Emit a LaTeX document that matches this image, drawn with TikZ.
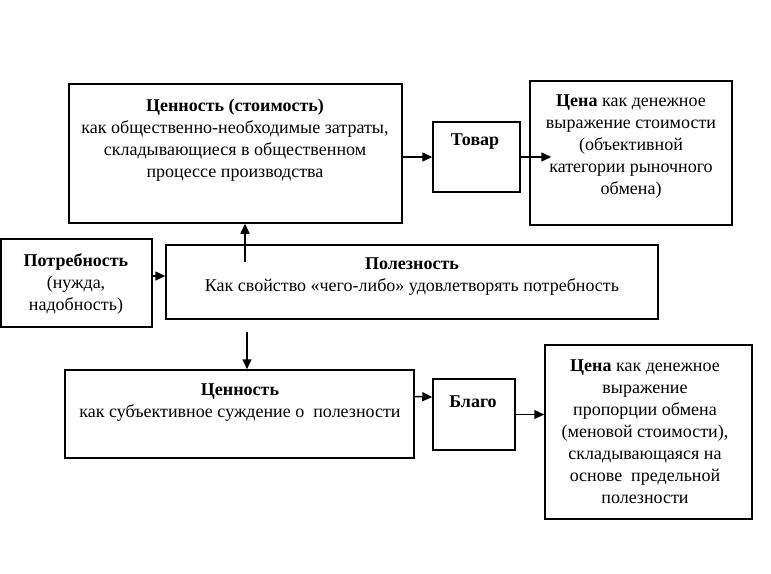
\documentclass[tikz,border=0pt]{standalone}
\usepackage{fontspec}
\setmainfont{Liberation Serif}
\usetikzlibrary{arrows.meta,calc}
\tikzset{
  box/.style={draw=black, line width=1.5pt, inner sep=0pt, fill=white},
  txt/.style={align=center, inner sep=0pt, font=\fontsize{18}{22}\selectfont},
  arr/.style={line width=1.5pt, -{Triangle[length=10pt,width=9pt]}},
}
\begin{document}
\begin{tikzpicture}[x=1pt,y=-1pt]
\useasboundingbox (0,0) rectangle (771,573);
% boxes
\node[box, minimum width=333pt, minimum height=139pt] (a) at (235.5,153.5) {};
\node[box, minimum width=87pt, minimum height=70pt] (tovar) at (476.5,157) {};
\node[box, minimum width=202pt, minimum height=144pt] (cena1) at (631,153) {};
\node[box, minimum width=151pt, minimum height=88pt] (potr) at (76.5,283) {};
\node[box, minimum width=492pt, minimum height=74pt] (polez) at (412,282) {};
\node[box, minimum width=349pt, minimum height=88pt] (c) at (239.5,414) {};
\node[box, minimum width=82pt, minimum height=71pt] (blago) at (474,414.5) {};
\node[box, minimum width=207pt, minimum height=174pt] (cena2) at (648.5,432) {};
% texts
\node[txt] (aT) at (235,140) {\textbf{Ценность (стоимость)}\\как общественно-необходимые затраты,\\складывающиеся в общественном\\процессе производства};
\node[txt] (tovarT) at (475,142) {\textbf{Товар}};
\node[txt] (cena1T) at (631,147) {\textbf{Цена} как денежное\\выражение стоимости\\(объективной\\категории рыночного\\обмена)};
\node[txt] (potrT) at (76,284) {\textbf{Потребность}\\(нужда,\\надобность)};
\node[txt] (polezT) at (412,277) {\textbf{Полезность}\\Как свойство «чего-либо» удовлетворять потребность};
\node[txt] (cT) at (240,402.5) {\textbf{Ценность}\\как субъективное суждение о \ полезности};
\node[txt] (blagoT) at (473,402) {\textbf{Благо}};
\node[txt] (cena2T) at (645,432) {\textbf{Цена} как денежное\\выражение\\пропорции обмена\\(меновой стоимости),\\складывающаяся на\\основе \ предельной\\полезности};
% connectors
\draw[arr] (a.east |- tovar.west) -- (tovar.west);
\draw[arr] (tovar.east) -- ([xshift=22pt]cena1.west |- tovar.east);
\draw[arr] ([yshift=7pt]potr.east) -- ([yshift=7pt]potr.east -| polez.west);
\coordinate (upstart) at (245,262);
\draw[arr] (upstart) -- (upstart |- a.south);
\coordinate (downstart) at (247,332);
\draw[arr] (downstart) -- (downstart |- c.north);
\draw[arr] ([yshift=17.5pt]c.east) -- ([yshift=17.5pt]blago.west);
\draw[arr] (blago.east) -- (blago.east -| cena2.west);
\end{tikzpicture}
\end{document}
